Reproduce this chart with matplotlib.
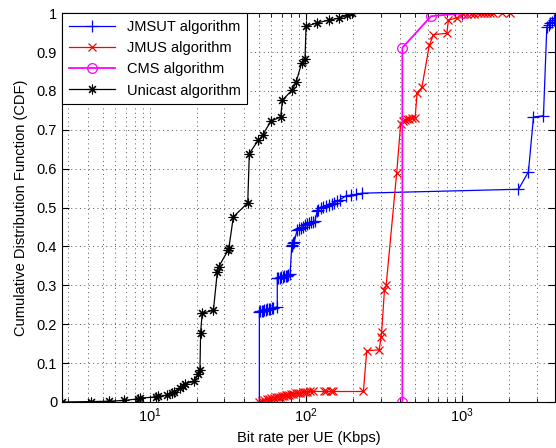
import matplotlib
matplotlib.use("Agg")
import matplotlib.pyplot as plt
import numpy as np
from matplotlib.ticker import LogLocator, NullFormatter, MultipleLocator

plt.rcParams['font.family'] = ['Liberation Sans', 'DejaVu Sans']

# Unicast algorithm
uni_x = [2.73, 4.2, 5.5, 6.8, 8.4, 8.6, 11.0, 11.3, 12.8, 13.8, 14.2, 15.6, 16.2, 16.8, 19.2,
         20.4, 20.9, 21.1, 21.6, 25.5, 27.0, 27.6, 31.6, 32.0, 34.2, 42.3, 43.3, 49.4, 52.7,
         59.4, 68.8, 70.5, 81.7, 86.3, 93.8, 98.5, 100, 118, 140, 163, 182, 196]
uni_y = [0, 0.001, 0.002, 0.004, 0.008, 0.010, 0.013, 0.015, 0.017, 0.022, 0.026, 0.035, 0.040,
         0.047, 0.053, 0.072, 0.082, 0.178, 0.228, 0.236, 0.335, 0.348, 0.390, 0.395, 0.476,
         0.512, 0.639, 0.673, 0.686, 0.722, 0.733, 0.776, 0.803, 0.822, 0.873, 0.883, 0.966,
         0.975, 0.982, 0.987, 0.994, 1.0]

# JMSUT algorithm
jmsut_x = [50.2, 50.2, 51, 52, 53, 54, 55, 56, 57.5, 59, 60.5, 61.5, 65.4, 65.4, 66.5, 68, 69.5,
           71, 72.5, 74, 75.5, 77, 79, 80.9, 81.5, 82.5, 84, 87.6, 90, 93, 96, 99, 102, 105,
           108, 111, 114, 118, 119, 124, 129, 134, 140, 146, 152, 158, 165, 180, 195, 210, 228,
           2296, 2660, 2866, 3320, 3490, 3580, 3680, 3780, 3880, 3946]
jmsut_y = [0, 0.232, 0.233, 0.234, 0.235, 0.236, 0.237, 0.238, 0.239, 0.240, 0.241, 0.242, 0.245,
           0.318, 0.319, 0.320, 0.321, 0.322, 0.323, 0.324, 0.325, 0.326, 0.328, 0.400, 0.404,
           0.408, 0.412, 0.442, 0.445, 0.448, 0.451, 0.454, 0.457, 0.460, 0.462, 0.463, 0.465,
           0.492, 0.495, 0.498, 0.501, 0.504, 0.507, 0.510, 0.513, 0.516, 0.520, 0.530, 0.532,
           0.534, 0.537, 0.547, 0.592, 0.733, 0.736, 0.965, 0.970, 0.974, 0.978, 0.983, 0.987]

# JMUS algorithm
jmus_x = [50.2, 52, 54, 56, 58, 60, 62, 64, 66, 68, 70, 72, 74, 76, 78, 80, 83, 86, 89, 92, 95,
          98, 101, 106, 110, 130, 135, 145, 149, 233, 245, 294, 303, 305, 318, 326, 381, 404,
          418, 430, 445, 460, 480, 500, 514, 552, 617, 655, 798, 817, 925, 1020, 1080, 1140,
          1200, 1260, 1320, 1380, 1440, 1500, 1585, 1795, 2032]
jmus_y = [0, 0.003, 0.005, 0.007, 0.008, 0.010, 0.011, 0.012, 0.013, 0.014, 0.015, 0.016, 0.017,
          0.018, 0.019, 0.020, 0.021, 0.022, 0.023, 0.024, 0.025, 0.025, 0.026, 0.027, 0.027,
          0.027, 0.027, 0.027, 0.027, 0.027, 0.132, 0.134, 0.168, 0.180, 0.288, 0.300, 0.590,
          0.716, 0.722, 0.725, 0.727, 0.729, 0.730, 0.731, 0.794, 0.809, 0.918, 0.945, 0.948,
          0.982, 0.988, 0.998, 0.999, 0.999, 0.999, 1.0, 1.0, 1.0, 1.0, 1.0, 1.0, 1.0, 1.0]

# CMS algorithm
cms_x = [414, 414, 632, 1010]
cms_y = [0, 0.911, 0.992, 1.0]

fig = plt.figure(figsize=(5.56, 4.48), dpi=100)
ax = fig.add_axes([0.1115, 0.1027, 0.887, 0.868])

ax.plot(jmsut_x, jmsut_y, color='blue', marker='+', markersize=8, linewidth=0.9,
        markeredgewidth=0.9, label='JMSUT algorithm')
ax.plot(jmus_x, jmus_y, color='red', marker='x', markersize=5.5, linewidth=0.9,
        markeredgewidth=0.9, label='JMUS algorithm')
ax.plot(cms_x, cms_y, color='magenta', marker='o', markersize=7, linewidth=1.3,
        markerfacecolor='none', markeredgewidth=0.9, label='CMS algorithm')
ax.plot(uni_x, uni_y, color='black', marker=(8, 2, 0), markersize=7, linewidth=0.9,
        markeredgewidth=0.8, label='Unicast algorithm')

ax.set_xscale('log')
ax.set_xlim(2.73, 3946)
ax.set_ylim(0, 1)
ax.set_yticks(np.arange(0, 1.01, 0.1))
ax.set_yticklabels(['0', '0.1', '0.2', '0.3', '0.4', '0.5', '0.6', '0.7', '0.8', '0.9', '1'])
ax.xaxis.set_major_locator(LogLocator(base=10, numticks=10))
ax.xaxis.set_minor_locator(LogLocator(base=10, subs=np.arange(2, 10), numticks=20))
ax.xaxis.set_minor_formatter(NullFormatter())

grid_style = dict(linestyle=(0, (1, 3.5)), color='#555555', linewidth=0.7)
ax.grid(True, which='major', axis='both', **grid_style)
ax.grid(True, which='minor', axis='x', **grid_style)

ax.tick_params(which='both', direction='in', top=True, right=True, labelsize=10.5)
ax.tick_params(which='major', length=5)
ax.tick_params(which='minor', length=3)

ax.set_xlabel('Bit rate per UE (Kbps)', fontsize=10.5, labelpad=4)
ax.set_ylabel('Cumulative Distribution Function (CDF)', fontsize=10.5, labelpad=6)

leg = ax.legend(loc='upper left', fontsize=10.5, frameon=True, fancybox=False,
                borderaxespad=0, handlelength=3.2, borderpad=0.45, labelspacing=0.5)
leg.get_frame().set_edgecolor('black')
leg.get_frame().set_linewidth(0.8)
leg.get_frame().set_alpha(1)

fig.savefig('out.png', dpi=100)
